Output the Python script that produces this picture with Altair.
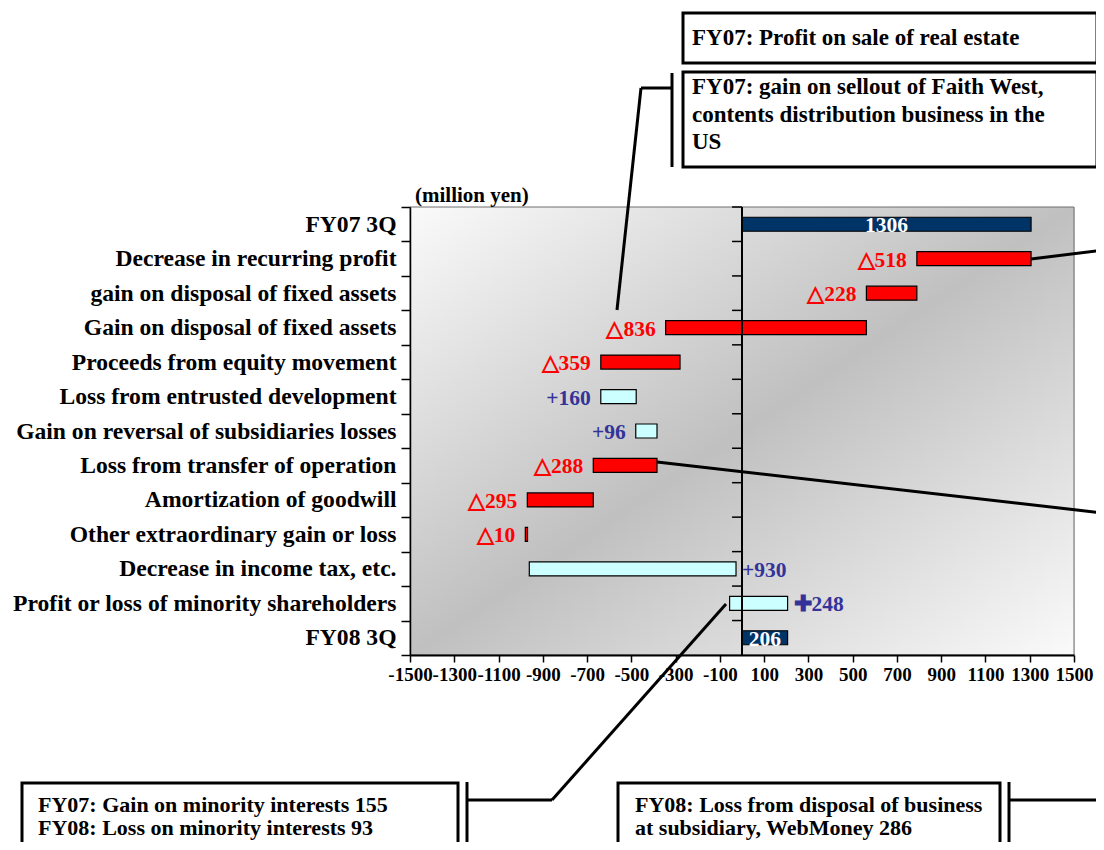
import altair as alt
import pandas as pd

# ---------------- data ----------------
categories = [
    "FY07 3Q",
    "Decrease in recurring profit",
    "gain on disposal of fixed assets",
    "Gain on disposal of fixed assets",
    "Proceeds from equity movement",
    "Loss from entrusted development",
    "Gain on reversal of subsidiaries losses",
    "Loss from transfer of operation",
    "Amortization of goodwill",
    "Other extraordinary gain or loss",
    "Decrease in income tax, etc.",
    "Profit or loss of minority shareholders",
    "FY08 3Q",
]
bar_start = [0, 790, 562, -345, -638, -638, -480, -672, -970, -979, -961, -56, 0]
bar_end = [1306, 1306, 790, 562, -280, -478, -384, -384, -672, -969, -27, 206, 206]
kinds = ["total", "dec", "dec", "dec", "dec", "inc", "inc", "dec", "dec", "dec", "inc", "inc", "total"]
value_labels = ["1306", "△518", "△228", "△836", "△359", "+160", "+96", "△288", "△295", "△10", "+930", "✚248", "206"]
label_side = ["mid", "left", "left", "left", "left", "left", "left", "left", "left", "left", "right", "right", "mid"]
x_ticks = list(range(-1500, 1501, 200))
x_domain = [-1500, 1500]

unit_label = "(million yen)"
note_real_estate = ["FY07: Profit on sale of real estate"]
note_faith = ["FY07: gain on sellout of Faith West,", "contents distribution business in the", "US"]
note_minority = ["FY07: Gain on minority interests 155", "FY08: Loss on minority interests 93"]
note_webmoney = ["FY08: Loss from disposal of business", "at subsidiary, WebMoney 286"]

# ---------------- layout ----------------
W, H = 664, 448
OX, OY = 410, 207          # page position of the plot origin (8px page margin + padding)
FONT = "Liberation Serif"


def px(v):
    return v - OX


def py(v):
    return v - OY


df = pd.DataFrame({"category": categories, "start": bar_start, "end": bar_end,
                   "kind": kinds, "label": value_labels, "side": label_side})
df["lo"] = df[["start", "end"]].min(axis=1)
df["hi"] = df[["start", "end"]].max(axis=1)
df["mid"] = (df["start"] + df["end"]) / 2
df["lx"] = [m if s == "mid" else (l if s == "left" else h)
            for m, l, h, s in zip(df["mid"], df["lo"], df["hi"], df["side"])]

frame_df = pd.DataFrame({"lo": [x_domain[0]], "hi": [x_domain[1]]})

xscale = alt.Scale(domain=x_domain, nice=False, zero=False)
xaxis = alt.Axis(title=None, values=x_ticks, labelExpr="'' + datum.value", grid=False,
                 labelFont=FONT, labelFontWeight="bold", labelFontSize=19, labelColor="black",
                 labelFlush=False, labelOverlap=False, labelPadding=3,
                 tickSize=7, tickColor="black", tickWidth=1.5,
                 domainColor="black", domainWidth=2, zindex=1)
yscale = alt.Scale(domain=categories, paddingInner=0, paddingOuter=0)
yaxis = alt.Axis(title=None, labelFont=FONT, labelFontWeight="bold", labelFontSize=23.6,
                 labelColor="black", labelLimit=700, labelPadding=5,
                 tickBand="extent", tickSize=9, tickColor="black", tickWidth=1.5,
                 domainColor="black", domainWidth=1.5, zindex=1)


def Y(**kw):
    return alt.Y("category:N", scale=yscale, axis=yaxis, **kw)


grad = alt.LinearGradient(
    gradient="linear",
    stops=[alt.GradientStop(color="#fafafa", offset=0),
           alt.GradientStop(color="#c0c0c0", offset=0.5),
           alt.GradientStop(color="#fafafa", offset=1)],
    x1=0, y1=0, x2=1, y2=1)

background = alt.Chart(frame_df).mark_rect(fill=grad, stroke="#6e6e6e", strokeWidth=1).encode(
    x=alt.X("lo:Q", scale=xscale, axis=xaxis), x2="hi:Q",
    y=alt.value(0), y2=alt.value(H))

zero_ticks = alt.Chart(df).mark_rule(color="black", strokeWidth=1.5).encode(
    x=alt.datum(-45), x2=alt.datum(0), y=Y(bandPosition=0))

bars = alt.Chart(df).mark_bar(height=14, stroke="black", strokeWidth=1.2).encode(
    x=alt.X("start:Q", scale=xscale, axis=xaxis), x2="end:Q", y=Y(),
    fill=alt.Fill("kind:N", scale=alt.Scale(domain=["total", "dec", "inc"],
                                            range=["#003366", "#ff0000", "#ccffff"]), legend=None))

zero_line = alt.Chart(frame_df).mark_rule(color="black", strokeWidth=2).encode(
    x=alt.datum(0), y=alt.value(0), y2=alt.value(H))

lab_color = alt.Color("kind:N", scale=alt.Scale(domain=["total", "dec", "inc"],
                                                range=["#ffffff", "#ff0000", "#333399"]), legend=None)


def value_text(side, align, dx):
    return alt.Chart(df).transform_filter(alt.datum.side == side).mark_text(
        align=align, baseline="middle", dx=dx, dy=2, font=FONT, fontWeight="bold", fontSize=21.5
    ).encode(x=alt.X("lx:Q", scale=xscale, axis=xaxis), y=Y(), text="label:N", color=lab_color)


labels_mid = value_text("mid", "center", 0)
labels_left = value_text("left", "right", -10)
labels_right = value_text("right", "left", 6)

# callout lines (page pixel coordinates converted to plot coordinates)
callouts = pd.DataFrame([
    dict(x=px(672), y=py(73), x2=px(672), y2=py(167)),
    dict(x=px(641), y=py(88), x2=px(672), y2=py(88)),
    dict(x=px(641), y=py(88), x2=px(617), y2=py(310)),
    dict(x=px(1031), y=py(259), x2=px(1112), y2=py(249)),
    dict(x=px(657), y=py(462), x2=px(1112), y2=py(514)),
    dict(x=px(467), y=py(782), x2=px(467), y2=py(860)),
    dict(x=px(467), y=py(800), x2=px(552), y2=py(800)),
    dict(x=px(552), y=py(800), x2=px(726), y2=py(604)),
    dict(x=px(1009), y=py(782), x2=px(1009), y2=py(860)),
    dict(x=px(1009), y=py(800), x2=px(1112), y2=py(800)),
])
callout_lines = alt.Chart(callouts).mark_rule(color="black", strokeWidth=3).encode(
    x=alt.X("x:Q", scale=None, axis=None), y=alt.Y("y:Q", scale=None, axis=None),
    x2="x2:Q", y2="y2:Q")

boxes_df = pd.DataFrame([
    dict(x=px(683), y=py(13), x2=px(1097), y2=py(63)),
    dict(x=px(683), y=py(72), x2=px(1097), y2=py(167)),
    dict(x=px(22), y=py(783), x2=px(458), y2=py(870)),
    dict(x=px(618), y=py(783), x2=px(1000), y2=py(870)),
])
boxes = alt.Chart(boxes_df).mark_rect(fill="white", stroke="black", strokeWidth=3).encode(
    x=alt.X("x:Q", scale=None, axis=None), y=alt.Y("y:Q", scale=None, axis=None),
    x2="x2:Q", y2="y2:Q")

note_rows = []
note_rows.append(dict(x=px(415), y=py(202), text=unit_label, size=21))
note_rows.append(dict(x=px(692), y=py(45), text=note_real_estate[0], size=23))
for i, t in enumerate(note_faith):
    note_rows.append(dict(x=px(692), y=py(94 + 27.5 * i), text=t, size=23))
for i, t in enumerate(note_minority):
    note_rows.append(dict(x=px(38), y=py(812 + 23 * i), text=t, size=22))
for i, t in enumerate(note_webmoney):
    note_rows.append(dict(x=px(635), y=py(812 + 23 * i), text=t, size=22))
notes_df = pd.DataFrame(note_rows)
notes = alt.Chart(notes_df).mark_text(
    align="left", baseline="alphabetic", font=FONT, fontWeight="bold", color="black"
).encode(x=alt.X("x:Q", scale=None, axis=None), y=alt.Y("y:Q", scale=None, axis=None),
         text="text:N", size=alt.Size("size:Q", scale=None, legend=None))

chart = alt.layer(
    background, zero_ticks, bars, zero_line, labels_mid, labels_left, labels_right,
    callout_lines, boxes, notes
).properties(
    width=W, height=H,
    padding={"left": 402, "top": 199, "right": 22, "bottom": 187},
    autosize=alt.AutoSizeParams(type="none"),
).configure_view(strokeWidth=0).configure(background="white")

chart.save("out.html", embed_options={"renderer": "svg", "actions": False})
